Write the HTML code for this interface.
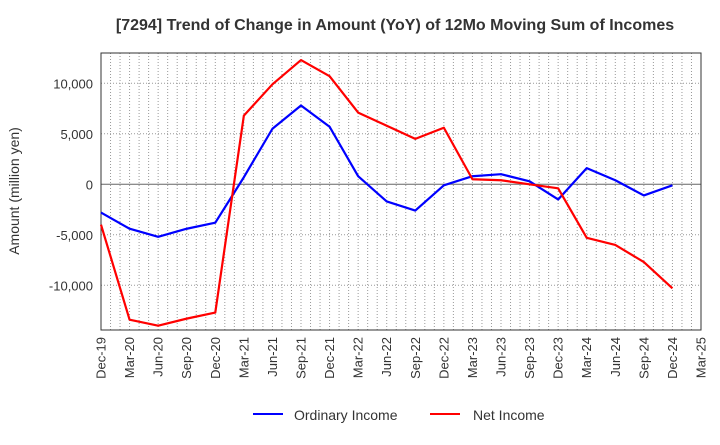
<!DOCTYPE html>
<html><head><meta charset="utf-8"><style>
body{margin:0;background:#fff;font-family:"Liberation Sans",sans-serif}
</style></head><body>
<svg width="720" height="440" xmlns="http://www.w3.org/2000/svg">
<text x="395" y="30" text-anchor="middle" font-size="16" font-weight="bold" fill="#333">[7294]  Trend of Change in Amount (YoY) of 12Mo Moving Sum of Incomes</text>
<g id="grid"></g><g id="axes"></g><g id="series"></g>
<text transform="translate(19,191) rotate(-90)" text-anchor="middle" font-size="14" fill="#333">Amount (million yen)</text>
<g>
<line x1="253" y1="414" x2="283" y2="414" stroke="#0000ff" stroke-width="2"/>
<text x="294" y="420" font-size="14" fill="#333">Ordinary Income</text>
<line x1="430" y1="414" x2="460" y2="414" stroke="#ff0000" stroke-width="2"/>
<text x="473" y="420" font-size="14" fill="#333">Net Income</text>
</g>
</svg>
<script>
const categories=["Dec-19","Mar-20","Jun-20","Sep-20","Dec-20","Mar-21","Jun-21","Sep-21","Dec-21","Mar-22","Jun-22","Sep-22","Dec-22","Mar-23","Jun-23","Sep-23","Dec-23","Mar-24","Jun-24","Sep-24","Dec-24","Mar-25"];
const ordinaryIncome=[-2800,-4400,-5200,-4400,-3800,700,5500,7800,5700,800,-1700,-2600,-100,800,1000,300,-1500,1600,400,-1100,-100];
const netIncome=[-4000,-13400,-14000,-13300,-12700,6800,9900,12300,10700,7100,5800,4500,5600,500,400,0,-400,-5300,-6000,-7700,-10300];
const yTicks=[-10000,-5000,0,5000,10000];
const yTickLabels=["-10,000","-5,000","0","5,000","10,000"];
const L=101,R=701,T=53,B=330,Y0=184.3,K=0.0101;
const NS="http://www.w3.org/2000/svg";
const xs=i=>L+i*(R-L)/(categories.length-1);
const ys=v=>Y0-v*K;
function mk(tag,attrs,parent){const e=document.createElementNS(NS,tag);for(const k in attrs)e.setAttribute(k,attrs[k]);parent.appendChild(e);return e;}
const grid=document.getElementById('grid'),axes=document.getElementById('axes'),series=document.getElementById('series');
const step=(R-L)/(categories.length-1)/3;
for(let i=1;i<(categories.length-1)*3;i++){const x=L+i*step;const l=mk('line',{x1:x,y1:T,x2:x,y2:B,stroke:'#999','stroke-dasharray':'1,2','stroke-width':1},grid);

}
yTicks.forEach((v,i)=>{const y=ys(v);
const g=mk('line',{x1:L,y1:y,x2:R,y2:y,stroke:v===0?'#666':'#999','stroke-dasharray':v===0?'none':'1,2','stroke-width':1},grid);


const t=mk('text',{x:L-8,y:y+5,'text-anchor':'end','font-size':13,fill:'#333'},axes);t.textContent=yTickLabels[i];

});
const fr=mk('rect',{x:L,y:T,width:R-L,height:B-T,fill:'none',stroke:'#333','stroke-width':1},axes);


categories.forEach((c,i)=>{const x=xs(i);const t=mk('text',{transform:`translate(${x+4.5},${B+7}) rotate(-90)`,'text-anchor':'end','font-size':13,fill:'#333'},axes);t.textContent=c;

});
function line(data,color,name){const p=mk('polyline',{points:data.map((v,i)=>xs(i)+','+ys(v)).join(' '),fill:'none',stroke:color,'stroke-width':2.2,'stroke-linejoin':'round'},series);

}
line(ordinaryIncome,'#0000ff','ordinary-income-line');
line(netIncome,'#ff0000','net-income-line');
</script>
</body></html>
